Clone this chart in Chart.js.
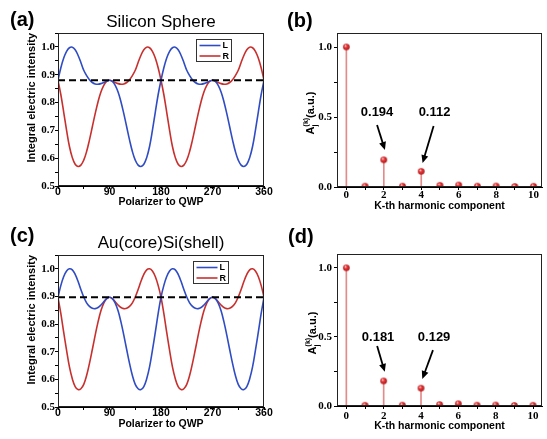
<!DOCTYPE html>
<html>
<head>
<meta charset="utf-8">
<script src="https://cdn.jsdelivr.net/npm/chart.js@4.4.1/dist/chart.umd.min.js"></script>
<style>
  body { margin: 0; background: #fff; width: 547px; height: 439px; position: relative; overflow: hidden;
         font-family: "Liberation Sans", Arial, sans-serif; }
  .panel { position: absolute; }
  .lbl { position: absolute; font-weight: bold; font-size: 20px; line-height: 1; }
  .ttl { position: absolute; font-size: 17px; line-height: 1; text-align: center; white-space: nowrap; }
</style>
</head>
<body>
<div class="panel" style="left:0;top:0"><canvas id="chartA" width="273" height="215"></canvas></div>
<div class="panel" style="left:273px;top:0"><canvas id="chartB" width="274" height="215"></canvas></div>
<div class="panel" style="left:0;top:215px"><canvas id="chartC" width="273" height="224"></canvas></div>
<div class="panel" style="left:273px;top:215px"><canvas id="chartD" width="274" height="224"></canvas></div>

<div class="lbl" style="left:10px;top:9px">(a)</div>
<div class="lbl" style="left:287px;top:10px">(b)</div>
<div class="lbl" style="left:10px;top:225px">(c)</div>
<div class="lbl" style="left:288px;top:226px">(d)</div>
<div class="ttl" style="left:58px;width:206px;top:13px">Silicon Sphere</div>
<div class="ttl" style="left:58px;width:206px;top:234px">Au(core)Si(shell)</div>

<script>
// ---- data ----
const angles = [0,5,10,15,20,25,30,35,40,45,50,55,60,65,70,75,80,85,90,95,100,105,110,115,120,125,130,135,140,145,150,155,160,165,170,175,180,
  185,190,195,200,205,210,215,220,225,230,235,240,245,250,255,260,265,270,275,280,285,290,295,300,305,310,315,320,325,330,335,340,345,350,355,360];

// (a) Silicon sphere
const siliconL = [0.880,0.925,0.960,0.984,0.997,0.999,0.990,0.970,0.944,0.916,0.897,0.882,0.872,0.867,0.866,0.868,0.872,0.877,0.880,0.876,0.862,0.838,0.803,0.760,0.713,0.666,0.624,0.593,0.575,0.570,0.578,0.602,0.642,0.700,0.765,0.828,0.880,
  0.925,0.960,0.984,0.997,0.999,0.990,0.970,0.944,0.916,0.897,0.882,0.872,0.867,0.866,0.868,0.872,0.877,0.880,0.876,0.862,0.838,0.803,0.760,0.713,0.666,0.624,0.593,0.575,0.570,0.578,0.602,0.642,0.700,0.765,0.828,0.880];
const siliconR = [0.880,0.828,0.765,0.700,0.642,0.602,0.578,0.570,0.575,0.593,0.624,0.666,0.713,0.760,0.803,0.838,0.862,0.876,0.880,0.877,0.872,0.868,0.866,0.867,0.872,0.882,0.897,0.916,0.944,0.970,0.990,0.999,0.997,0.984,0.960,0.925,0.880,
  0.828,0.765,0.700,0.642,0.602,0.578,0.570,0.575,0.593,0.624,0.666,0.713,0.760,0.803,0.838,0.862,0.876,0.880,0.877,0.872,0.868,0.866,0.867,0.872,0.882,0.897,0.916,0.944,0.970,0.990,0.999,0.997,0.984,0.960,0.925,0.880];
const siliconMean = 0.880;

// (c) Au core / Si shell
const coreShellL = [0.897,0.940,0.972,0.992,1.000,0.996,0.980,0.955,0.925,0.898,0.877,0.864,0.857,0.856,0.860,0.869,0.881,0.892,0.897,0.892,0.876,0.848,0.808,0.760,0.708,0.658,0.614,0.582,0.566,0.563,0.574,0.602,0.645,0.705,0.770,0.838,0.897,
  0.940,0.972,0.992,1.000,0.996,0.980,0.955,0.925,0.898,0.877,0.864,0.857,0.856,0.860,0.869,0.881,0.892,0.897,0.892,0.876,0.848,0.808,0.760,0.708,0.658,0.614,0.582,0.566,0.563,0.574,0.602,0.645,0.705,0.770,0.838,0.897];
const coreShellR = [0.897,0.838,0.770,0.705,0.645,0.602,0.574,0.563,0.566,0.582,0.614,0.658,0.708,0.760,0.808,0.848,0.876,0.892,0.897,0.892,0.881,0.869,0.860,0.856,0.857,0.864,0.877,0.898,0.925,0.955,0.980,0.996,1.000,0.992,0.972,0.940,0.897,
  0.838,0.770,0.705,0.645,0.602,0.574,0.563,0.566,0.582,0.614,0.658,0.708,0.760,0.808,0.848,0.876,0.892,0.897,0.892,0.881,0.869,0.860,0.856,0.857,0.864,0.877,0.898,0.925,0.955,0.980,0.996,1.000,0.992,0.972,0.940,0.897];
const coreShellMean = 0.897;

// (b), (d) harmonic amplitudes
const harmonicK = [0,1,2,3,4,5,6,7,8,9,10];
const siliconAmp = [1.0,0.006,0.194,0.006,0.112,0.012,0.014,0.006,0.007,0.004,0.005];
const coreShellAmp = [1.0,0.005,0.181,0.006,0.129,0.010,0.016,0.006,0.007,0.004,0.005];

const xTicksCurve = [0,90,180,270,360];

// ---- styling ----
const SANS = '"Liberation Sans", Arial, sans-serif';
const SERIF = '"Liberation Serif", "Times New Roman", serif';
const BLUE = '#2f4cc4';
const RED = '#c8302e';

// box round the plot area
const framePlugin = {
  id: 'frame',
  afterDraw(chart) {
    const { ctx, chartArea: a } = chart;
    ctx.save();
    ctx.strokeStyle = '#222';
    ctx.lineWidth = 1;
    ctx.strokeRect(Math.round(a.left) + 0.5, Math.round(a.top) + 0.5,
                   Math.round(a.right - a.left) - 1, Math.round(a.bottom - a.top) - 1);
    ctx.restore();
  }
};

// small boxed legend in the top right of the plot
const boxLegend = {
  id: 'boxLegend',
  afterDatasetsDraw(chart, args, opts) {
    if (!opts.show) return;
    const { ctx, chartArea: a } = chart;
    const x = Math.round(a.right - opts.right - opts.width) + 0.5;
    const y = Math.round(a.top + opts.top) + 0.5;
    ctx.save();
    ctx.fillStyle = '#fff';
    ctx.fillRect(x, y, opts.width, opts.height);
    ctx.strokeStyle = '#333';
    ctx.lineWidth = 1;
    ctx.strokeRect(x, y, opts.width, opts.height);
    const items = chart.data.datasets.filter(d => d.inLegend);
    items.forEach((d, i) => {
      const yy = y + 6 + i * 10.5;
      ctx.strokeStyle = d.borderColor;
      ctx.lineWidth = 1.6;
      ctx.beginPath();
      ctx.moveTo(x + 3, yy);
      ctx.lineTo(x + 24, yy);
      ctx.stroke();
      ctx.fillStyle = '#000';
      ctx.font = 'bold 9px ' + SANS;
      ctx.textBaseline = 'middle';
      ctx.fillText(d.label, x + 26, yy + 0.5);
    });
    ctx.restore();
  }
};

// value labels with arrows, in data coordinates
const arrowNotes = {
  id: 'arrowNotes',
  afterDatasetsDraw(chart, args, opts) {
    if (!opts.items) return;
    const { ctx, scales: { x, y } } = chart;
    ctx.save();
    opts.items.forEach(it => {
      ctx.font = 'bold 13px ' + SANS;
      ctx.textAlign = 'center';
      ctx.textBaseline = 'middle';
      ctx.fillStyle = '#000';
      ctx.fillText(it.text, x.getPixelForValue(it.at[0]), y.getPixelForValue(it.at[1]));
      const x1 = x.getPixelForValue(it.from[0]), y1 = y.getPixelForValue(it.from[1]);
      const x2 = x.getPixelForValue(it.to[0]), y2 = y.getPixelForValue(it.to[1]);
      const ang = Math.atan2(y2 - y1, x2 - x1);
      const head = 8, half = 3.5;
      const bx = x2 - head * Math.cos(ang), by = y2 - head * Math.sin(ang);
      ctx.strokeStyle = '#000';
      ctx.lineWidth = 1.8;
      ctx.beginPath();
      ctx.moveTo(x1, y1);
      ctx.lineTo(bx + 1 * Math.cos(ang), by + 1 * Math.sin(ang));
      ctx.stroke();
      ctx.beginPath();
      ctx.moveTo(x2, y2);
      ctx.lineTo(bx + half * Math.sin(ang), by - half * Math.cos(ang));
      ctx.lineTo(bx - half * Math.sin(ang), by + half * Math.cos(ang));
      ctx.closePath();
      ctx.fill();
    });
    ctx.restore();
  }
};

// y title A_j^(k)(a.u.) with sub/superscript
const ampTitle = {
  id: 'ampTitle',
  afterDraw(chart, args, opts) {
    if (!opts.show) return;
    const { ctx, chartArea: a } = chart;
    const cx = opts.x, cy = (a.top + a.bottom) / 2 + opts.dy;
    ctx.save();
    ctx.translate(cx, cy);
    ctx.rotate(-Math.PI / 2);
    ctx.fillStyle = '#000';
    ctx.textBaseline = 'middle';
    ctx.textAlign = 'left';
    const big = 'bold 11px ' + SANS, small = 'bold 7px ' + SANS;
    ctx.font = big;
    const wA = ctx.measureText('A').width, wU = ctx.measureText('(a.u.)').width;
    ctx.font = small;
    const wK = ctx.measureText('(k)').width;
    let px = -(wA + wK + wU) / 2;
    ctx.font = big;
    ctx.fillText('A', px, 0);
    px += wA;
    ctx.font = small;
    ctx.fillText('(k)', px, -5);
    ctx.fillText('j', px, 4);
    px += wK;
    ctx.font = big;
    ctx.fillText('(a.u.)', px, 0);
    ctx.restore();
  }
};

function sphereImage(r) {
  const s = Math.ceil(r * 2) + 2;
  const c = document.createElement('canvas');
  c.width = c.height = s;
  const g = c.getContext('2d');
  const m = s / 2;
  const grd = g.createRadialGradient(m - r * 0.35, m - r * 0.4, r * 0.1, m, m, r);
  grd.addColorStop(0, '#ffd6d6');
  grd.addColorStop(0.35, '#ef3b3b');
  grd.addColorStop(1, '#a8141a');
  g.fillStyle = grd;
  g.beginPath();
  g.arc(m, m, r, 0, Math.PI * 2);
  g.fill();
  return c;
}
const sphere = sphereImage(3.3);

function pts(xs, ys) {
  return xs.map((v, i) => ({ x: v, y: ys[i] }));
}

function curveChart(id, L, R, mean, box) {
  return new Chart(document.getElementById(id), {
    type: 'line',
    data: {
      datasets: [
        { label: 'mean', data: [{ x: angles[0], y: mean }, { x: angles[angles.length - 1], y: mean }],
          borderColor: '#000', borderWidth: 2, borderDash: [7, 4], pointRadius: 0 },
        { label: 'L', inLegend: true, data: pts(angles, L), borderColor: BLUE, borderWidth: 1.6,
          pointRadius: 0, tension: 0.4 },
        { label: 'R', inLegend: true, data: pts(angles, R), borderColor: RED, borderWidth: 1.6,
          pointRadius: 0, tension: 0.4 }
      ]
    },
    options: {
      responsive: false,
      animation: false,
      layout: { padding: { top: box.top, right: box.right, left: 0, bottom: 0 } },
      plugins: {
        legend: { display: false },
        tooltip: { enabled: false },
        boxLegend: { show: true, right: box.legRight, top: 6, width: 35, height: 22 }
      },
      scales: {
        x: {
          type: 'linear', min: 0, max: 360,
          afterFit(s) { s.height = box.xh; s.paddingLeft = 0; s.paddingRight = 0; },
          border: { color: '#000', width: 1 },
          grid: { drawOnChartArea: false, color: '#000', tickLength: 3 },
          ticks: {
            stepSize: 45, autoSkip: false, maxRotation: 0, padding: -2, color: '#000',
            font: { family: SANS, weight: 'bold', size: 10.5, lineHeight: 1 },
            callback: v => (xTicksCurve.includes(v) ? String(v) : '')
          },
          title: { display: true, text: 'Polarizer to QWP', color: '#000',
                   font: { family: SANS, weight: 'bold', size: 10.5 }, padding: { top: 0, bottom: box.xtPad } }
        },
        y: {
          min: 0.5, max: 1.05,
          afterFit(s) { s.width = 58; s.paddingTop = 0; s.paddingBottom = 0; },
          border: { color: '#000', width: 1 },
          grid: { drawOnChartArea: false, color: '#000', tickLength: 3 },
          ticks: {
            stepSize: 0.05, includeBounds: false, autoSkip: false, padding: 0, color: '#000',
            font: { family: SERIF, weight: 'bold', size: 11 },
            callback: v => { const r = Math.round(v * 100); return r % 10 === 0 ? (r / 100).toFixed(1) : ''; }
          },
          title: { display: true, text: 'Integral electric intensity', align: 'end', color: '#000',
                   font: { family: SANS, weight: 'bold', size: 11 }, padding: { top: 25.4, bottom: 0 } }
        }
      }
    },
    plugins: [framePlugin, boxLegend]
  });
}

function stemChart(id, amp, box) {
  const notes = [
    { text: amp[2].toFixed(3), at: box.n1.at, from: box.n1.from, to: box.n1.to },
    { text: amp[4].toFixed(3), at: box.n2.at, from: box.n2.from, to: box.n2.to }
  ];
  return new Chart(document.getElementById(id), {
    type: 'bar',
    data: {
      datasets: [
        { type: 'scatter', label: 'points', data: pts(harmonicK, amp), pointStyle: sphere,
          pointRadius: 3.3, clip: 0 },
        { type: 'bar', label: 'stems', data: pts(harmonicK, amp), backgroundColor: '#e58a8a',
          barThickness: 1, borderWidth: 0 }
      ]
    },
    options: {
      responsive: false,
      animation: false,
      layout: { padding: { top: box.top, right: box.right, left: 0, bottom: 0 } },
      plugins: {
        legend: { display: false },
        tooltip: { enabled: false },
        arrowNotes: { items: notes },
        ampTitle: { show: true, x: box.titleX, dy: 3 }
      },
      scales: {
        x: {
          type: 'linear', min: -0.5, max: box.xmax, offset: false,
          afterFit(s) { s.height = box.xh; s.paddingLeft = 0; s.paddingRight = 0; },
          border: { color: '#000', width: 1 },
          grid: { drawOnChartArea: false, offset: false, color: '#000', tickLength: 3 },
          ticks: {
            stepSize: 1, includeBounds: false, autoSkip: false, maxRotation: 0, padding: box.xtickPad, color: '#000',
            font: { family: SERIF, weight: 'bold', size: 11, lineHeight: 1 },
            callback: v => (v % 2 === 0 ? String(v) : '')
          },
          title: { display: true, text: 'K-th harmonic component', color: '#000',
                   font: { family: SANS, weight: 'bold', size: 10.5 }, padding: { top: 0, bottom: box.xtPad } }
        },
        y: {
          min: 0, max: 1.1,
          afterFit(s) { s.width = 64; s.paddingTop = 0; s.paddingBottom = 0; },
          border: { color: '#000', width: 1 },
          grid: { drawOnChartArea: false, color: '#000', tickLength: 3 },
          ticks: {
            stepSize: 0.25, includeBounds: false, autoSkip: false, padding: 2, color: '#000',
            font: { family: SERIF, weight: 'bold', size: 11 },
            callback: v => { const r = Math.round(v * 100); return r % 50 === 0 ? (r / 100).toFixed(1) : ''; }
          }
        }
      }
    },
    plugins: [framePlugin, arrowNotes, ampTitle]
  });
}

curveChart('chartA', siliconL, siliconR, siliconMean,
  { top: 33, right: 9, xh: 29, xtPad: 6.2, legRight: 33 });
curveChart('chartC', coreShellL, coreShellR, coreShellMean,
  { top: 40, right: 9, xh: 32, xtPad: 8.7, legRight: 36 });

stemChart('chartB', siliconAmp,
  { top: 33, right: 3, xh: 28, xtPad: 2.7, xtickPad: 0, xmax: 10.45, titleX: 38,
    n1: { at: [1.64, 0.536], from: [1.64, 0.443], to: [2.06, 0.264] },
    n2: { at: [4.71, 0.536], from: [4.66, 0.436], to: [4.07, 0.171] } });
stemChart('chartD', coreShellAmp,
  { top: 39, right: 1, xh: 33, xtPad: 6.7, xtickPad: 2, xmax: 10.48, titleX: 40,
    n1: { at: [1.70, 0.497], from: [1.65, 0.434], to: [2.06, 0.247] },
    n2: { at: [4.70, 0.497], from: [4.64, 0.404], to: [4.07, 0.195] } });
</script>
</body>
</html>
